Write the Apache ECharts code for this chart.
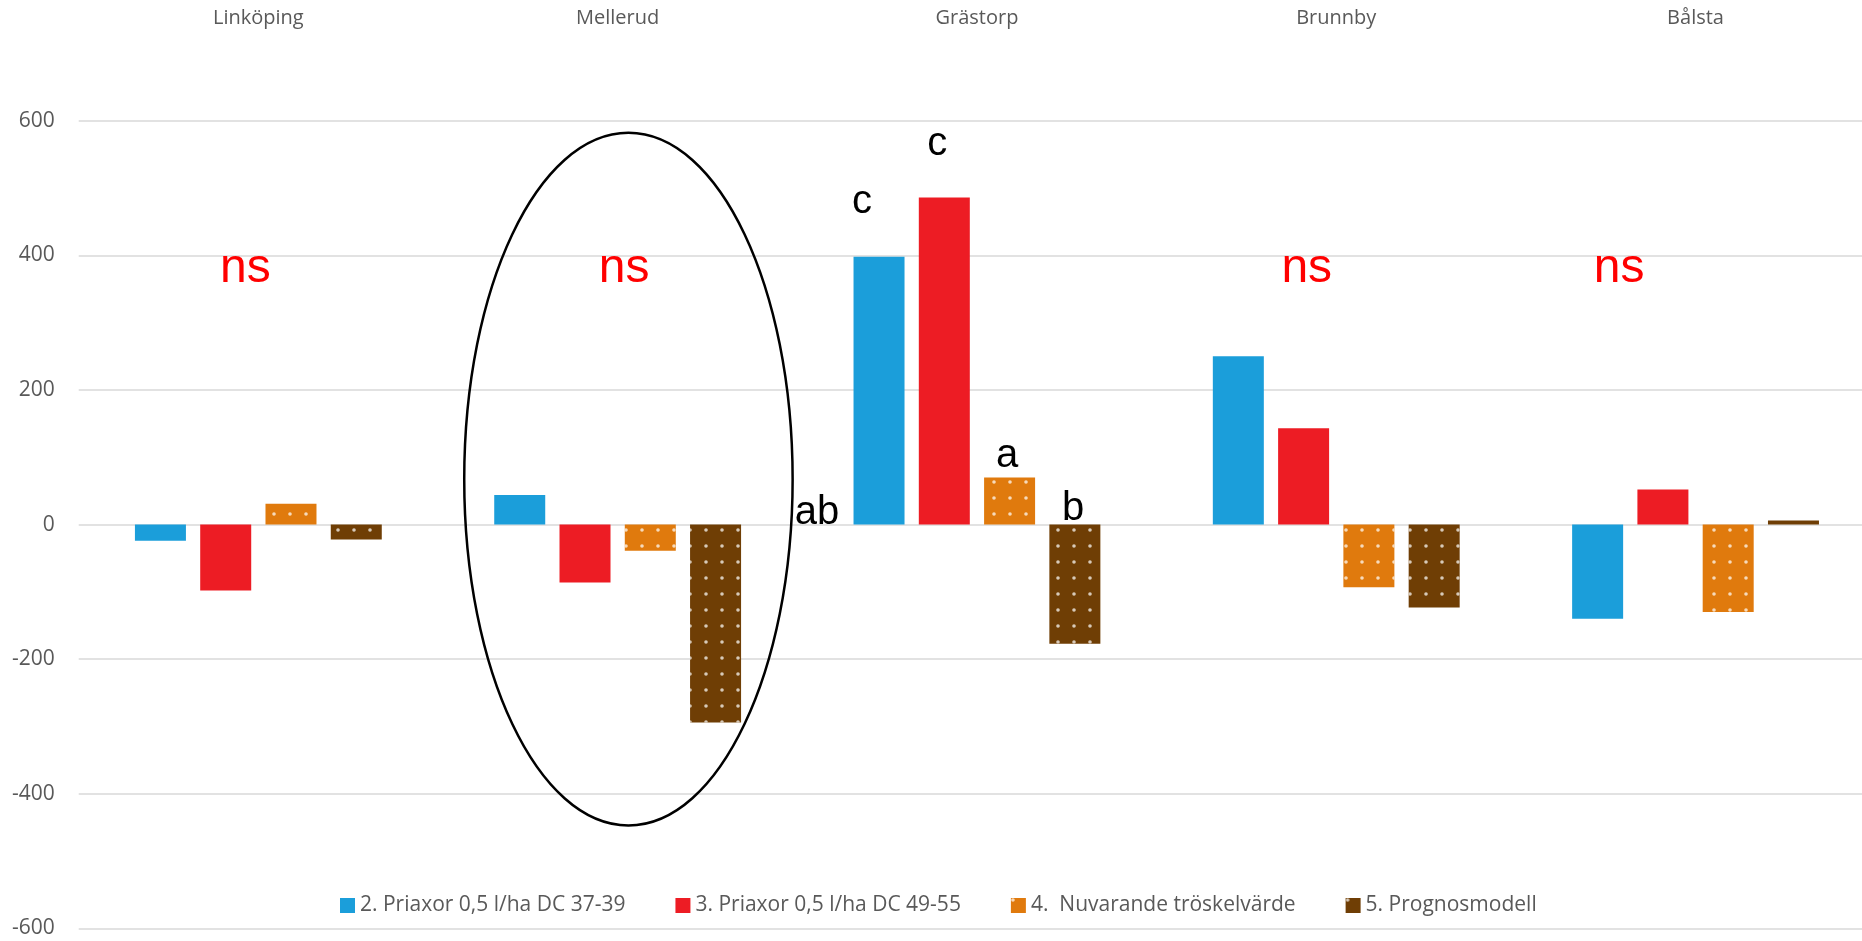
<!DOCTYPE html>
<html>
<head>
<meta charset="utf-8">
<script src="https://cdn.jsdelivr.net/npm/echarts@6/dist/echarts.min.js"></script>
<style>
html,body{margin:0;padding:0;background:#fff;}
#chart{width:1862px;height:941px;}
</style>
</head>
<body>
<div id="chart"></div>
<script>
// ---- data ----
const categories = ['Linköping', 'Mellerud', 'Grästorp', 'Brunnby', 'Bålsta'];
const seriesNames = ['2. Priaxor 0,5 l/ha DC 37-39', '3. Priaxor 0,5 l/ha DC 49-55', '4.  Nuvarande tröskelvärde', '5. Prognosmodell'];
const blueValues = [-24, 44, 398, 250, -140];
const redValues = [-98, -86, 486, 143, 52];
const orangeValues = [31, -39, 70, -93, -130];
const brownValues = [-22, -294, -177, -123, 6];
const blueLetters = ['', '', 'c', '', ''];
const redLetters = ['', '', 'c', '', ''];
const orangeLetters = ['', '', 'a', '', ''];
const brownLetters = ['', '', 'b', '', ''];
const nsLabels = ['ns', 'ns', '', 'ns', 'ns'];
const controlLetters = ['', '', 'ab', '', ''];
const yTicks = { min: -600, max: 600, interval: 200 };

// ---- styles ----
const colors = ['#1B9EDA', '#ED1C24', '#E07A0D', '#6F3E05'];
const letterDist = [34.5, 33.5, 1.1, 0];
const letterOff = [[-17, 0], [-7, 0], [-2.5, 0], [-1.7, 4.5]];
const nsOffsetX = [-13, 6.5, 0, -29.5, -76.5];
const nsLevel = 380;
const ctrlLevel = 18;
const axisFont = { fontFamily: 'Open Sans', fontSize: 20, color: '#595959' };
const dotDecal = {
  symbol: 'circle', symbolSize: 0.9,
  dashArrayX: [4, 12], dashArrayY: [4, 12],
  color: 'rgba(255,255,255,0.72)'
};

function barSeries(i, values, letters, decal) {
  return {
    name: seriesNames[i],
    type: 'bar',
    barWidth: 51,
    barGap: '28%',
    itemStyle: decal ? { color: colors[i], decal: dotDecal } : { color: colors[i] },
    data: values.map((v, k) => {
      const item = { value: v };
      if (letters[k]) {
        item.label = {
          show: true, position: 'top', distance: letterDist[i],
          offset: letterOff[i],
          formatter: letters[k],
          fontFamily: 'Liberation Sans', fontSize: 40, lineHeight: 40, color: '#000'
        };
      }
      return item;
    })
  };
}

const annoData = [];
categories.forEach((c, k) => {
  if (nsLabels[k]) annoData.push({
    value: [c, nsLevel], text: nsLabels[k],
    label: { offset: [nsOffsetX[k], 0], color: '#FF0000', fontSize: 48, lineHeight: 48 }
  });
  if (controlLetters[k]) annoData.push({
    value: [c, ctrlLevel], text: controlLetters[k],
    label: { offset: [-160, 0], color: '#000000', fontSize: 40, lineHeight: 40 }
  });
});

const chart = echarts.init(document.getElementById('chart'), null, { renderer: 'canvas' });
const option = {
  animation: false,
  backgroundColor: '#fff',
  grid: { left: 78.7, width: 1796.5, top: 120.7, bottom: 12.5, containLabel: false, outerBoundsMode: 'none' },
  legend: {
    left: 340, top: 895, padding: 0,
    itemWidth: 15, itemHeight: 15, itemGap: 50,
    icon: 'rect',
    textStyle: Object.assign({}, axisFont, { fontSize: 21 }),
    data: seriesNames
  },
  xAxis: {
    type: 'category', position: 'top', data: categories,
    axisLine: { show: false }, axisTick: { show: false },
    axisLabel: Object.assign({ margin: 92 }, axisFont)
  },
  yAxis: {
    type: 'value', min: yTicks.min, max: yTicks.max, interval: yTicks.interval,
    axisLine: { show: false }, axisTick: { show: false },
    axisLabel: Object.assign({ margin: 24 }, axisFont, { fontSize: 21 }),
    splitLine: { lineStyle: { color: '#D9D9D9', width: 1.5 } }
  },
  series: [
    barSeries(0, blueValues, blueLetters, false),
    barSeries(1, redValues, redLetters, false),
    barSeries(2, orangeValues, orangeLetters, true),
    barSeries(3, brownValues, brownLetters, true),
    {
      type: 'scatter', symbolSize: 0, silent: true,
      itemStyle: { opacity: 1 },
      label: { show: true, position: 'inside', fontFamily: 'Liberation Sans', opacity: 1, formatter: p => p.data.text },
      data: annoData
    }
  ]
};
chart.setOption(option);

// ellipse around Mellerud (annotation), placed through the axes
const c0 = chart.convertToPixel({ xAxisIndex: 0 }, categories[0]);
const c1 = chart.convertToPixel({ xAxisIndex: 0 }, categories[1]);
const band = c1 - c0;
const yTop = chart.convertToPixel({ yAxisIndex: 0 }, 582);
const yBot = chart.convertToPixel({ yAxisIndex: 0 }, -447);
chart.setOption({
  graphic: [{
    type: 'ellipse', silent: true, z: 100,
    shape: { cx: c1 + 0.03 * band, cy: (yTop + yBot) / 2, rx: 0.457 * band, ry: (yBot - yTop) / 2 },
    style: { fill: null, stroke: '#000', lineWidth: 2.5 }
  }]
});
</script>
</body>
</html>
